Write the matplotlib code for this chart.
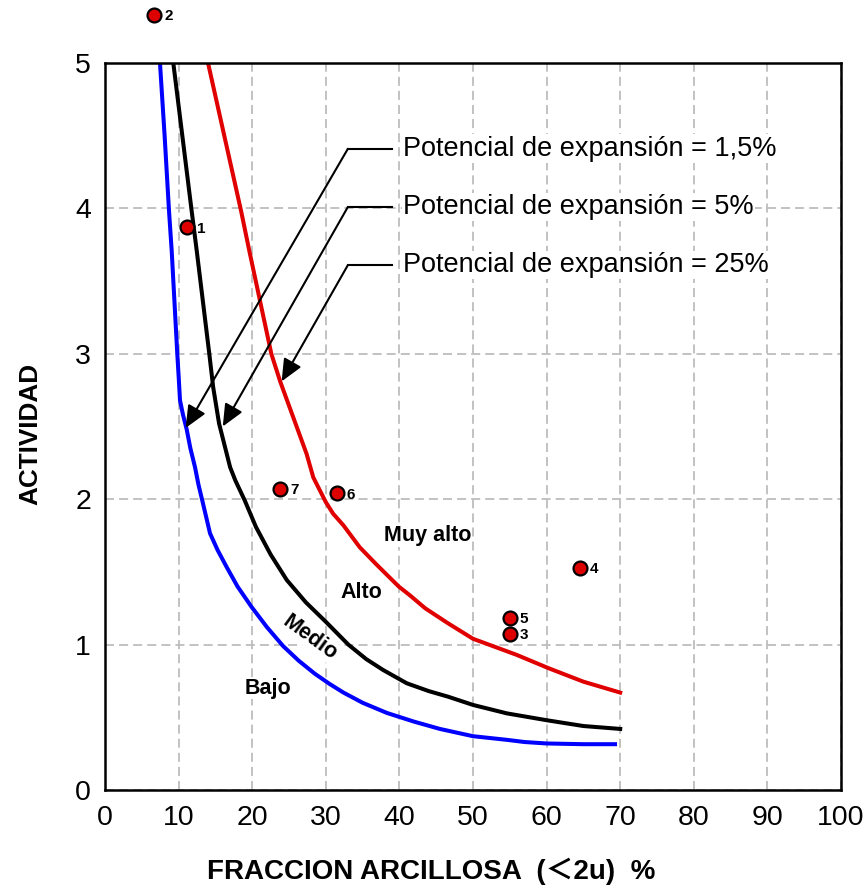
import matplotlib
matplotlib.use("Agg")
import matplotlib.pyplot as plt

plt.rcParams['font.family'] = ['Liberation Sans', 'DejaVu Sans']

# Curvas de potencial de expansión (fracción arcillosa %, actividad)
bajo_x = [7.47, 8.1, 8.7, 9.06, 9.5, 9.82, 10.0, 10.19, 10.6, 11.1, 11.6, 12.23, 12.7,
          13.27, 14.27, 15.3, 16.5, 18.0, 19.9, 22.0, 24.2, 26.3, 28.5, 30.5, 32.4, 35.0,
          38.3, 42.0, 45.5, 50.0, 54.6, 57.0, 60.0, 65.0, 69.3]
bajo_y = [5.0, 4.5, 3.98, 3.71, 3.3, 3.0, 2.85, 2.68, 2.58, 2.48, 2.35, 2.22, 2.1,
          1.98, 1.765, 1.65, 1.536, 1.40, 1.26, 1.12, 0.99, 0.89, 0.80, 0.73, 0.67, 0.60,
          0.53, 0.47, 0.42, 0.37, 0.345, 0.33, 0.32, 0.315, 0.315]

medio_x = [9.28, 11.78, 12.46, 14.17, 14.7, 15.5, 17.0, 17.7, 19.0, 20.5, 22.5, 24.7,
           27.3, 30.0, 33.06, 35.5, 37.8, 41.0, 44.0, 46.6, 50.0, 54.6, 60.0, 65.0, 70.0]
medio_y = [5.0, 3.98, 3.71, 3.0, 2.77, 2.52, 2.22, 2.13, 1.99, 1.81, 1.62, 1.444,
           1.29, 1.157, 1.0, 0.90, 0.825, 0.734, 0.68, 0.642, 0.585, 0.527, 0.48, 0.44, 0.42]

alto_x = [14.0, 18.5, 19.6, 22.6, 23.8, 25.6, 27.4, 28.3, 30.0, 31.0, 32.4, 34.6, 36.9,
          39.9, 41.4, 43.5, 46.5, 50.0, 55.9, 60.3, 65.0, 70.0]
alto_y = [5.0, 3.98, 3.71, 3.0, 2.81, 2.56, 2.31, 2.15, 1.98, 1.90, 1.82, 1.67, 1.55,
          1.40, 1.34, 1.25, 1.15, 1.04, 0.93, 0.837, 0.745, 0.67]

# Muestras
muestra_id = ['1', '2', '3', '4', '5', '6', '7']
muestra_x = [11.2, 6.7, 55.0, 64.5, 55.0, 31.5, 23.8]
muestra_y = [3.87, 5.33, 1.073, 1.53, 1.185, 2.04, 2.07]

etiquetas_pot = ['Potencial de expansión = 1,5%',
                 'Potencial de expansión = 5%',
                 'Potencial de expansión = 25%']
pot_texto_y = [4.41, 4.01, 3.61]
pot_punta = [(10.96, 2.49), (16.0, 2.50), (24.0, 2.81)]

zonas = ['Muy alto', 'Alto', 'Medio', 'Bajo']
zonas_pos = [(43.9, 1.75), (34.8, 1.36), (27.85, 1.05), (22.1, 0.70)]
zonas_rot = [0, 0, -36, 0]

fig = plt.figure(figsize=(8.64, 8.88), dpi=100)
ax = fig.add_axes([105 / 864, 1 - 790 / 888, 736 / 864, 727 / 888])

ax.set_xlim(0, 100)
ax.set_ylim(0, 5)
ax.set_xticks(range(0, 101, 10))
ax.set_yticks(range(0, 6))
ax.grid(True, color='#bdbdbd', lw=1.3, linestyle=(0, (5, 2.8)))
ax.set_axisbelow(True)
for s in ax.spines.values():
    s.set_linewidth(1.8)
    s.set_color('black')
    s.set_zorder(6)
ax.tick_params(axis='both', length=0, labelsize=20.5)
ax.tick_params(axis='x', pad=11)
ax.tick_params(axis='y', pad=10)

ax.plot(bajo_x, bajo_y, color='#0000ff', lw=2.9, zorder=3, solid_joinstyle='round')
ax.plot(medio_x, medio_y, color='black', lw=2.9, zorder=3, solid_joinstyle='round')
ax.plot(alto_x, alto_y, color='#e00000', lw=2.9, zorder=3, solid_joinstyle='round')

# Líneas de referencia con flecha hacia cada curva
esquina_x = 33.0
linea_fin_x = 39.0
texto_x = 40.5
for txt, ty, punta in zip(etiquetas_pot, pot_texto_y, pot_punta):
    ax.plot([linea_fin_x, esquina_x], [ty, ty], color='black', lw=1.5, zorder=4)
    ax.annotate('', xy=punta, xytext=(esquina_x, ty),
                arrowprops=dict(arrowstyle='-|>,head_length=0.45,head_width=0.2',
                                color='black', lw=1.5,
                                mutation_scale=30, shrinkA=0, shrinkB=0),
                zorder=4)
    ax.text(texto_x, ty, txt, fontsize=19.5, ha='left', va='center', zorder=5,
            bbox=dict(facecolor='white', edgecolor='none', pad=1))

for z, (zx, zy), rot in zip(zonas, zonas_pos, zonas_rot):
    ax.text(zx, zy, z, fontsize=15.5, fontweight='bold', ha='center', va='center',
            rotation=rot, rotation_mode='anchor', zorder=5,
            bbox=dict(facecolor='white', edgecolor='none', pad=0.5))

ax.scatter(muestra_x, muestra_y, s=100, facecolor='#dd0000', edgecolor='black',
           linewidth=1.6, zorder=7, clip_on=False)
for mid, mx, my in zip(muestra_id, muestra_x, muestra_y):
    ax.annotate(mid, (mx, my), xytext=(7, -1), textcoords='offset points',
                fontsize=11, fontweight='bold', ha='left', va='center',
                annotation_clip=False, zorder=7)

fig.text(30 / 864, 1 - 434 / 888, 'ACTIVIDAD', rotation=90, fontsize=18.8,
         fontweight='bold', ha='center', va='center')
fig.text(431 / 864, 1 - 871 / 888, 'FRACCION ARCILLOSA  (＜2u)  %', fontsize=20,
         fontweight='bold', ha='center', va='center',
         family=['Liberation Sans', 'Noto Sans CJK JP'])

fig.savefig('out.png', dpi=100, facecolor='white')
